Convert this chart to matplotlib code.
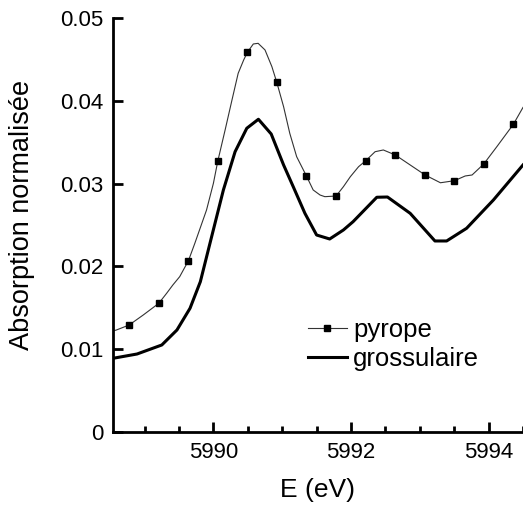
import matplotlib
matplotlib.use("Agg")
import matplotlib.pyplot as plt
from matplotlib.ticker import MultipleLocator

plt.rcParams['font.family'] = ['Liberation Sans', 'DejaVu Sans']

# pyrope curve; markers sit on the points listed in pyrope_marks
pyrope_E = [5988.54, 5988.59, 5988.775, 5988.98, 5989.206, 5989.32, 5989.41,
            5989.51, 5989.637, 5989.73, 5989.90, 5990.00, 5990.064, 5990.17,
            5990.27, 5990.36, 5990.44, 5990.494, 5990.58, 5990.65, 5990.75,
            5990.85, 5990.921, 5991.02, 5991.11, 5991.21, 5991.352, 5991.45,
            5991.55, 5991.62, 5991.783, 5991.89, 5991.99, 5992.11, 5992.215,
            5992.35, 5992.47, 5992.645, 5992.86, 5993.077, 5993.30, 5993.503,
            5993.66, 5993.76, 5993.930, 5994.12, 5994.360, 5994.50]
pyrope_A = [0.0122, 0.01232, 0.01292, 0.01413, 0.01554, 0.01675, 0.01775,
            0.01876, 0.02069, 0.02279, 0.02681, 0.03004, 0.03273, 0.03647,
            0.0401, 0.04332, 0.04493, 0.04586, 0.04686, 0.04694, 0.04614,
            0.04412, 0.04223, 0.03929, 0.03607, 0.03325, 0.03092, 0.02923,
            0.02862, 0.02842, 0.0285, 0.02963, 0.03083, 0.03204, 0.03277,
            0.03385, 0.03406, 0.03345, 0.03225, 0.03104, 0.0301, 0.03035,
            0.03092, 0.03104, 0.03237, 0.03446, 0.03716, 0.0392]
pyrope_marks = [2, 4, 8, 12, 17, 22, 26, 30, 34, 37, 39, 41, 44, 46]

grossulaire_E = [5988.54, 5988.89, 5989.25, 5989.47, 5989.66, 5989.81, 5989.95,
                 5990.145, 5990.315, 5990.485, 5990.654, 5990.84, 5991.02,
                 5991.16, 5991.33, 5991.50, 5991.69, 5991.89, 5992.03, 5992.375,
                 5992.53, 5992.86, 5993.22, 5993.39, 5993.68, 5994.07, 5994.50]
grossulaire_A = [0.0089, 0.00942, 0.01051, 0.01232, 0.01494, 0.01815, 0.02279,
                 0.02923, 0.03385, 0.03668, 0.03777, 0.03599, 0.03225,
                 0.02963, 0.02641, 0.02379, 0.02331, 0.0244, 0.0254, 0.02835,
                 0.02838, 0.02641, 0.02307, 0.02307, 0.0246, 0.02802, 0.03225]

yticks = [0, 0.01, 0.02, 0.03, 0.04, 0.05]
yticklabels = ['0', '0.01', '0.02', '0.03', '0.04', '0.05']

fig = plt.figure(figsize=(5.23, 5.08), dpi=100)
ax = fig.add_axes([0.216, 0.1496, 0.784, 0.815])

ax.plot(pyrope_E, pyrope_A, color='#333333', lw=0.8, marker='s', ms=5,
        mfc='black', mec='black', markevery=pyrope_marks, label='pyrope')
ax.plot(grossulaire_E, grossulaire_A, color='black', lw=2.2, label='grossulaire')

ax.set_xlim(5988.54, 5994.5)
ax.set_ylim(0, 0.05)
ax.set_yticks(yticks)
ax.set_yticklabels(yticklabels)
ax.xaxis.set_major_locator(MultipleLocator(2))
ax.xaxis.set_minor_locator(MultipleLocator(0.5))

for s in ['top', 'right']:
    ax.spines[s].set_visible(False)
for s in ['left', 'bottom']:
    ax.spines[s].set_linewidth(2)

ax.tick_params(axis='both', which='major', direction='in', length=7, width=2,
               labelsize=16, pad=7)
ax.tick_params(axis='x', which='minor', direction='in', length=4, width=2)

ax.set_xlabel('E (eV)', fontsize=19, labelpad=11)
ax.set_ylabel('Absorption normalisée', fontsize=19.5)
ax.yaxis.set_label_coords(-0.19, 0.524)

ax.legend(loc='upper left', bbox_to_anchor=(0.476, 0.275), frameon=False,
          fontsize=18.5, handlelength=1.5, handletextpad=0.25, labelspacing=0.2,
          borderpad=0, borderaxespad=0)

fig.savefig('out.png', dpi=100)
